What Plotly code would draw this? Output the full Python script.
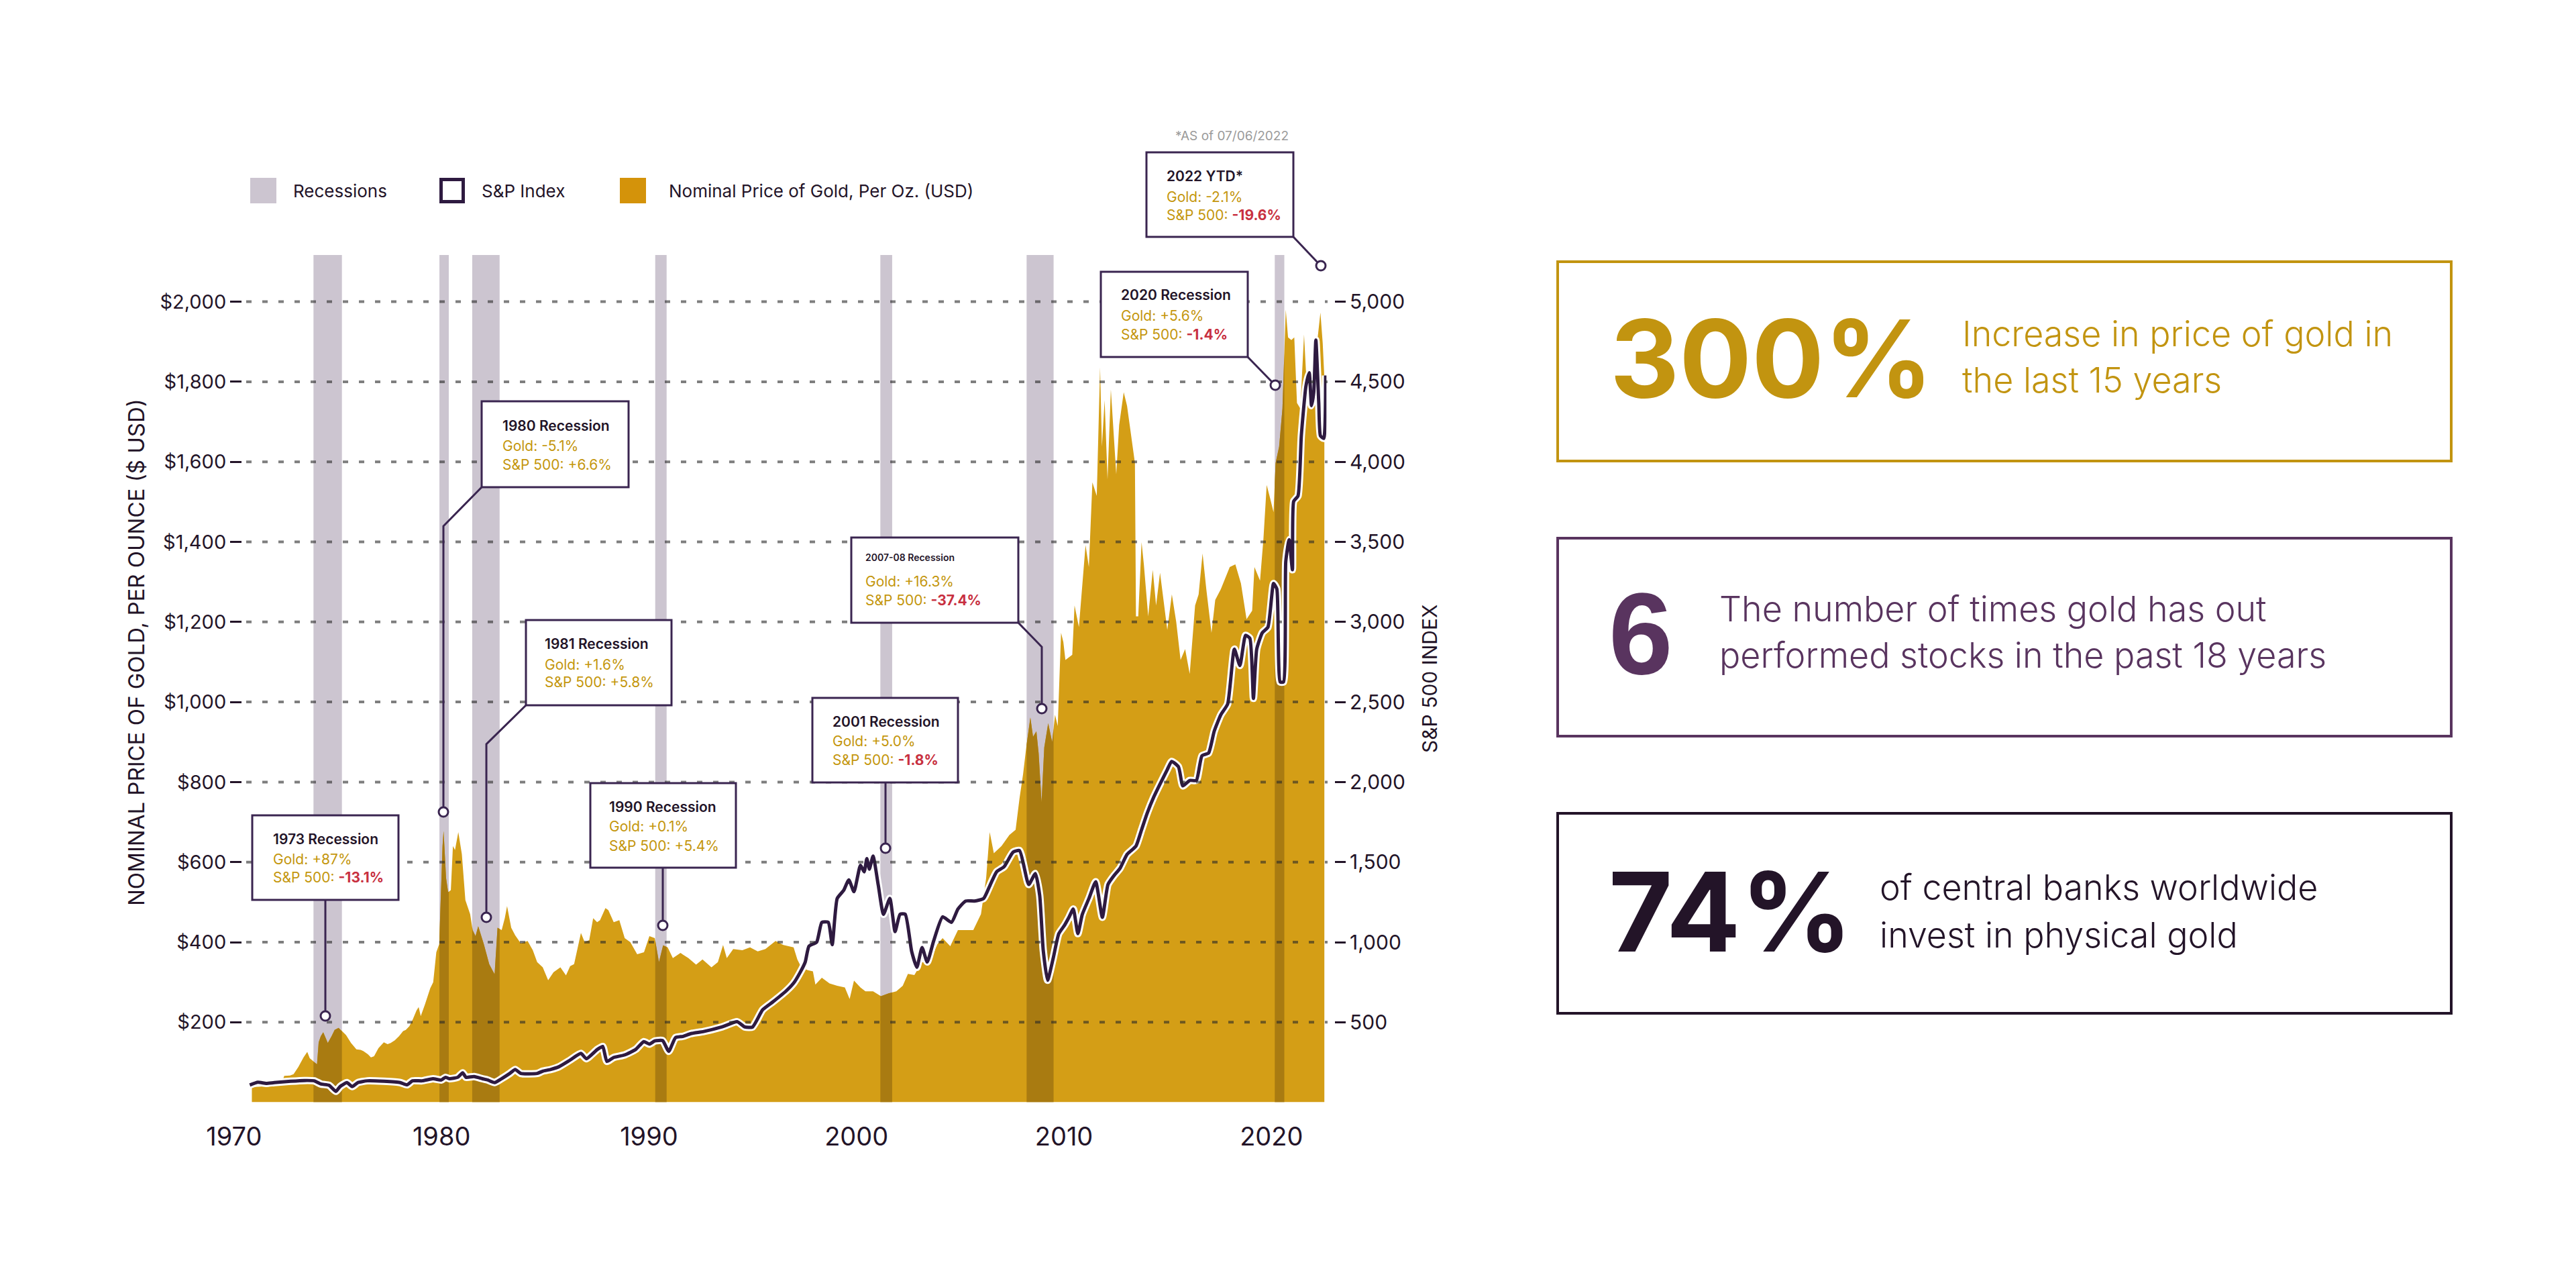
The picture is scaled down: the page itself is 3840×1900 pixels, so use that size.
import numpy as np
import plotly.graph_objects as go

W, H = 3840, 1900
OFF = 8  # page body margin

# ---------------- data ----------------
gold_year = [1970.86, 1971.30, 1971.80, 1972.30, 1972.42, 1972.70, 1972.87, 1973.10, 1973.35, 1973.53,
             1973.65, 1973.82, 1974.00, 1974.08, 1974.18, 1974.30, 1974.42, 1974.52, 1974.70, 1974.85,
             1975.04, 1975.24, 1975.40, 1975.64, 1975.90, 1976.10, 1976.23, 1976.45, 1976.60, 1976.75,
             1976.96, 1977.22, 1977.40, 1977.55, 1977.75, 1977.95, 1978.15, 1978.28, 1978.45, 1978.60,
             1978.80, 1978.90, 1979.00, 1979.20, 1979.46, 1979.60, 1979.75, 1979.89, 1980.05, 1980.10,
             1980.22, 1980.32, 1980.45, 1980.55, 1980.65, 1980.81, 1980.98, 1981.15, 1981.38, 1981.50,
             1981.64, 1981.77, 1982.04, 1982.30, 1982.45, 1982.56, 1982.70, 1982.90, 1983.05, 1983.16,
             1983.36, 1983.55, 1983.82, 1984.15, 1984.40, 1984.61, 1984.88, 1985.14, 1985.40, 1985.73,
             1986.00, 1986.20, 1986.39, 1986.72, 1986.90, 1987.12, 1987.31, 1987.50, 1987.64, 1987.90,
             1988.04, 1988.30, 1988.57, 1988.83, 1989.10, 1989.43, 1989.76, 1990.02, 1990.28, 1990.48,
             1990.68, 1990.90, 1991.15, 1991.52, 1991.90, 1992.27, 1992.58, 1993.01, 1993.32, 1993.57,
             1993.75, 1994.06, 1994.50, 1994.87, 1995.24, 1995.61, 1996.10, 1996.48, 1996.97, 1997.15,
             1997.34, 1997.65, 1997.90, 1998.02, 1998.33, 1998.70, 1999.07, 1999.44, 1999.67, 1999.88,
             2000.19, 2000.43, 2000.80, 2001.18, 2001.55, 2001.92, 2002.23, 2002.48, 2002.79, 2003.16,
             2003.53, 2003.90, 2004.15, 2004.52, 2004.89, 2005.26, 2005.63, 2006.00, 2006.25, 2006.42,
             2006.62, 2006.99, 2007.37, 2007.67, 2007.86, 2008.03, 2008.19, 2008.38, 2008.51, 2008.67,
             2008.78, 2008.92, 2009.05, 2009.24, 2009.43, 2009.57, 2009.70, 2009.86, 2009.97, 2010.07,
             2010.40, 2010.51, 2010.72, 2011.04, 2011.20, 2011.37, 2011.58, 2011.74, 2011.83, 2011.96,
             2012.10, 2012.26, 2012.39, 2012.52, 2012.66, 2012.88, 2013.04, 2013.25, 2013.42, 2013.47,
             2013.58, 2013.74, 2013.85, 2014.06, 2014.28, 2014.44, 2014.63, 2014.98, 2015.20, 2015.41,
             2015.62, 2015.84, 2016.06, 2016.32, 2016.49, 2016.68, 2016.86, 2017.11, 2017.29, 2017.56,
             2017.78, 2017.99, 2018.26, 2018.53, 2018.80, 2019.07, 2019.18, 2019.45, 2019.61, 2019.77,
             2019.94, 2020.10, 2020.20, 2020.37, 2020.53, 2020.69, 2020.80, 2020.96, 2021.10, 2021.23,
             2021.39, 2021.57, 2021.66, 2021.79, 2021.93, 2022.07, 2022.20, 2022.36, 2022.47, 2022.55]
gold_usd = [38, 39, 43, 48, 66, 67, 70, 88, 112, 126,
            110, 102, 95, 150, 165, 175, 160, 148, 165, 181,
            186, 175, 168, 148, 132, 131, 128, 120, 112, 115,
            135, 150, 145, 148, 155, 165, 178, 181, 190, 205,
            230, 238, 215, 244, 285, 300, 375, 395, 640, 678,
            560, 525, 530, 640, 630, 675, 620, 505, 470, 430,
            415, 440, 395, 345, 330, 320, 436, 430, 460, 490,
            436, 417, 397, 403, 380, 350, 337, 305, 325, 337,
            317, 340, 345, 423, 400, 405, 460, 450, 455, 485,
            480, 450, 455, 410, 400, 370, 375, 415, 410, 350,
            392, 387, 360, 373, 360, 344, 357, 337, 350, 393,
            360, 383, 380, 387, 377, 383, 403, 393, 387, 357,
            337, 330, 327, 294, 311, 297, 291, 287, 258, 304,
            287, 277, 277, 265, 272, 277, 291, 321, 318, 350,
            350, 395, 410, 390, 430, 430, 430, 470, 560, 675,
            622, 640, 668, 681, 760, 820, 890, 961, 913, 927,
            872, 749, 886, 947, 900, 968, 940, 1173, 1150, 1105,
            1118, 1241, 1187, 1392, 1337, 1549, 1515, 1836, 1638, 1754,
            1556, 1781, 1665, 1569, 1692, 1774, 1740, 1665, 1597, 1214,
            1214, 1399, 1344, 1214, 1330, 1241, 1323, 1180, 1269, 1200,
            1105, 1132, 1070, 1241, 1269, 1371, 1282, 1173, 1255, 1282,
            1310, 1337, 1344, 1296, 1207, 1228, 1337, 1303, 1405, 1542,
            1508, 1474, 1597, 1638, 1733, 1980, 1911, 1904, 1911, 1747,
            1733, 1918, 1829, 1733, 1774, 1815, 1897, 1973, 1897, 1810]

sp_year = [1970.76, 1971.15, 1971.55, 1971.94, 1972.73, 1973.39, 1973.86, 1974.19, 1974.58, 1974.91,
           1975.11, 1975.44, 1975.70, 1975.97, 1976.43, 1977.22, 1978.01, 1978.34, 1978.60, 1979.07,
           1979.59, 1979.99, 1980.19, 1980.39, 1980.78, 1981.02, 1981.18, 1981.57, 1981.97, 1982.23,
           1982.56, 1982.89, 1983.29, 1983.55, 1983.82, 1984.61, 1984.87, 1985.27, 1985.66, 1986.19,
           1986.72, 1986.98, 1987.51, 1987.77, 1987.97, 1988.30, 1988.83, 1989.36, 1989.75, 1990.02,
           1990.28, 1990.66, 1990.95, 1991.28, 1991.65, 1992.02, 1992.64, 1993.50, 1994.25, 1994.62,
           1994.99, 1995.48, 1995.98, 1996.60, 1996.97, 1997.28, 1997.53, 1997.71, 1998.08, 1998.33,
           1998.64, 1998.83, 1999.07, 1999.38, 1999.63, 1999.88, 2000.19, 2000.37, 2000.50, 2000.62,
           2000.80, 2001.05, 2001.30, 2001.61, 2001.86, 2002.10, 2002.35, 2002.66, 2002.91, 2003.16,
           2003.41, 2003.72, 2004.15, 2004.58, 2004.89, 2005.26, 2005.69, 2006.13, 2006.44, 2006.75,
           2007.12, 2007.55, 2007.86, 2008.30, 2008.62, 2008.83, 2009.00, 2009.21, 2009.48, 2009.75,
           2010.02, 2010.24, 2010.45, 2010.67, 2010.88, 2011.21, 2011.53, 2011.85, 2012.12, 2012.39,
           2012.71, 2013.04, 2013.47, 2013.74, 2014.01, 2014.33, 2014.65, 2014.98, 2015.19, 2015.52,
           2015.73, 2016.06, 2016.38, 2016.65, 2016.97, 2017.24, 2017.56, 2017.89, 2018.21, 2018.48,
           2018.75, 2018.96, 2019.13, 2019.29, 2019.56, 2019.83, 2020.10, 2020.26, 2020.42, 2020.58,
           2020.69, 2020.85, 2021.01, 2021.07, 2021.28, 2021.44, 2021.66, 2021.82, 2021.93, 2022.04,
           2022.14, 2022.28, 2022.36, 2022.52, 2022.61]
sp_index = [108, 125, 118, 123, 131, 136, 134, 114, 106, 68,
            98, 123, 98, 123, 134, 131, 123, 109, 134, 134,
            147, 139, 156, 147, 156, 184, 156, 161, 147, 139,
            123, 147, 180, 205, 180, 180, 194, 205, 222, 263,
            305, 272, 330, 349, 255, 280, 296, 330, 379, 363,
            383, 385, 318, 404, 412, 429, 442, 470, 503, 470,
            470, 578, 628, 694, 744, 810, 876, 975, 1000, 1124,
            1124, 984, 1273, 1323, 1389, 1315, 1480, 1439, 1522, 1456,
            1538, 1356, 1174, 1273, 1066, 1174, 1174, 942, 843, 967,
            876, 1008, 1158, 1124, 1207, 1257, 1257, 1273, 1356, 1439,
            1472, 1563, 1572, 1360, 1429, 1292, 950, 762, 899, 1053,
            1104, 1155, 1207, 1053, 1172, 1275, 1377, 1155, 1360, 1412,
            1463, 1548, 1600, 1702, 1805, 1907, 1993, 2078, 2129, 2095,
            1976, 2010, 2010, 2164, 2181, 2317, 2420, 2488, 2830, 2728,
            2916, 2898, 2522, 2830, 2933, 2967, 3240, 3206, 2625, 2625,
            3377, 3514, 3326, 3753, 3787, 4163, 4471, 4556, 4351, 4437,
            4761, 4368, 4163, 4146, 4539]

recession_start = [1973.83, 1979.90, 1981.48, 1990.30, 2001.15, 2008.20, 2020.16]
recession_end = [1975.20, 1980.35, 1982.80, 1990.85, 2001.72, 2009.50, 2020.62]

gold_ticks = [200, 400, 600, 800, 1000, 1200, 1400, 1600, 1800, 2000]
gold_tick_text = ["$200", "$400", "$600", "$800", "$1,000", "$1,200", "$1,400", "$1,600", "$1,800", "$2,000"]
sp_ticks = [500, 1000, 1500, 2000, 2500, 3000, 3500, 4000, 4500, 5000]
year_ticks = [1970, 1980, 1990, 2000, 2010, 2020]

callouts = [
    ("1973 Recession", "Gold: +87%", "-13.1%", True),
    ("1980 Recession", "Gold: -5.1%", "+6.6%", False),
    ("1981 Recession", "Gold: +1.6%", "+5.8%", False),
    ("1990 Recession", "Gold: +0.1%", "+5.4%", False),
    ("2001 Recession", "Gold: +5.0%", "-1.8%", True),
    ("2007-08 Recession", "Gold: +16.3%", "-37.4%", True),
    ("2020 Recession", "Gold: +5.6%", "-1.4%", True),
    ("2022 YTD*", "Gold: -2.1%", "-19.6%", True),
]

# ---------------- style ----------------
FONT = "Inter, Noto Sans, sans-serif"
DARK = "#231428"
PURPLE = "#3A2550"
GOLD = "#D49E16"
GOLD_DARK = "#A97B11"
BAND = "#CCC5D0"
GOLD_TXT = "#C4960C"
RED = "#C8303F"
CARD_GOLD = "#C29410"
CARD_PURPLE = "#59345F"


def px(x):
    return (x - OFF) / W


def py(y):
    return 1 - (y - OFF) / H


GOLD_TOP = 2116.7
X_RANGE = [1969.95, 2022.65]

fig = go.Figure()

fig.add_trace(go.Scatter(x=gold_year, y=gold_usd, mode="lines", fill="tozeroy",
                         fillcolor=GOLD, line=dict(width=0, color=GOLD), hoverinfo="skip"))

gy = np.array(gold_year)
gv = np.array(gold_usd)
for s, e in zip(recession_start, recession_end):
    inside = (gy > s) & (gy < e)
    xs = [s] + list(gy[inside]) + [e]
    ys = [float(np.interp(s, gy, gv))] + list(gv[inside]) + [float(np.interp(e, gy, gv))]
    fig.add_trace(go.Scatter(x=xs, y=ys, mode="lines", fill="tozeroy", fillcolor=GOLD_DARK,
                             line=dict(width=0, color=GOLD_DARK), hoverinfo="skip"))

fig.add_trace(go.Scatter(x=sp_year, y=sp_index, yaxis="y2", mode="lines",
                         line=dict(color="white", width=11, shape="spline", smoothing=0.5),
                         hoverinfo="skip"))
fig.add_trace(go.Scatter(x=sp_year, y=sp_index, yaxis="y2", mode="lines",
                         line=dict(color="#2E1A40", width=5, shape="spline", smoothing=0.5),
                         hoverinfo="skip"))

shapes = []
for s, e in zip(recession_start, recession_end):
    shapes.append(dict(type="rect", xref="x", yref="y", x0=s, x1=e, y0=0, y1=GOLD_TOP,
                       fillcolor=BAND, line=dict(width=0), layer="below"))
for v in gold_ticks:
    shapes.append(dict(type="line", xref="paper", yref="y", x0=px(367), x1=px(1979), y0=v, y1=v,
                       line=dict(color="rgba(40,40,40,0.6)", width=4, dash="8px,16px"), layer="above"))

boxes = [
    (376, 1215, 594, 1341), (718, 598, 937, 726), (784, 924, 1001, 1051), (880, 1167, 1097, 1293),
    (1211, 1040, 1428, 1166), (1269, 801, 1518, 928), (1641, 405, 1860, 532), (1709, 227, 1928, 353),
]
connectors = [
    [(485, 1341), (485, 1507)],
    [(718, 726), (661, 784), (661, 1203)],
    [(784, 1051), (725, 1109), (725, 1360)],
    [(988, 1293), (988, 1372)],
    [(1320, 1166), (1320, 1257)],
    [(1518, 928), (1553, 964), (1553, 1049)],
    [(1860, 532), (1896, 569)],
    [(1928, 353), (1964, 391)],
]
circles = [(485, 1514), (661, 1210), (725, 1367), (988, 1379), (1320, 1264), (1553, 1056), (1901, 574), (1969, 396)]

for pts in connectors:
    path = "M " + " L ".join(f"{px(x):.5f},{py(y):.5f}" for x, y in pts)
    shapes.append(dict(type="path", xref="paper", yref="paper", path=path,
                       line=dict(color=PURPLE, width=3), layer="above"))
for cx, cy in circles:
    r = 7
    shapes.append(dict(type="circle", xref="paper", yref="paper", x0=px(cx - r), x1=px(cx + r),
                       y0=py(cy + r), y1=py(cy - r), fillcolor="white",
                       line=dict(color=PURPLE, width=3), layer="above"))
for x0, y0, x1, y1 in boxes:
    shapes.append(dict(type="rect", xref="paper", yref="paper", x0=px(x0), x1=px(x1), y0=py(y1), y1=py(y0),
                       fillcolor="white", line=dict(color=PURPLE, width=3), layer="above"))

# legend swatches
shapes.append(dict(type="rect", xref="paper", yref="paper", x0=px(373), x1=px(412), y0=py(303), y1=py(265),
                   fillcolor=BAND, line=dict(width=0)))
shapes.append(dict(type="rect", xref="paper", yref="paper", x0=px(657.5), x1=px(690.5), y0=py(300.5), y1=py(267.5),
                   fillcolor="white", line=dict(color="#2E1A40", width=5)))
shapes.append(dict(type="rect", xref="paper", yref="paper", x0=px(924), x1=px(963), y0=py(303), y1=py(265),
                   fillcolor="#D4930A", line=dict(width=0)))

cards = [((2322, 390, 3654, 687), CARD_GOLD), ((2322, 802, 3654, 1097), CARD_PURPLE),
         ((2322, 1212, 3654, 1510), DARK)]
for (x0, y0, x1, y1), c in cards:
    shapes.append(dict(type="rect", xref="paper", yref="paper", x0=px(x0), x1=px(x1), y0=py(y1), y1=py(y0),
                       fillcolor="rgba(0,0,0,0)", line=dict(color=c, width=4)))

ann = []


def text(x, y, s, size, color, weight=400, family=FONT, anchor="left", angle=0):
    ann.append(dict(x=px(x), y=py(y), xref="paper", yref="paper", text=s, showarrow=False,
                    xanchor=anchor, yanchor="middle", textangle=angle,
                    font=dict(family=family, size=size, color=color, weight=weight)))


text_pos = [(405, 1250, 1280, 1307), (747, 634, 664, 692), (810, 959, 990, 1017), (906, 1202, 1231, 1260),
            (1239, 1075, 1104, 1132), (1288, 830, 866, 894), (1669, 440, 471, 498), (1737, 262, 293, 320)]
for (title, gtxt, sptxt, neg), (tx, ty1, ty2, ty3) in zip(callouts, text_pos):
    tsize = 14 if title.startswith("2007") else 21
    text(tx, ty1, title, tsize, DARK, weight=600)
    text(tx, ty2, gtxt, 21, GOLD_TXT)
    if neg:
        sp = f'S&amp;P 500: <span style="color:{RED}"><b>{sptxt}</b></span>'
    else:
        sp = f"S&amp;P 500: {sptxt}"
    text(tx, ty3, sp, 21, GOLD_TXT)

text(1750, 203, "*AS of 07/06/2022", 19, "#9A9A9A")

text(435, 284, "Recessions", 26, DARK)
text(716, 284, "S&amp;P Index", 26, DARK)
text(995, 284, "Nominal Price of Gold, Per Oz. (USD)", 26, DARK)

text(203, 972, "NOMINAL PRICE OF GOLD, PER OUNCE ($ USD)", 33, DARK, anchor="center", angle=-90)
text(2131, 1011, "S&amp;P 500 INDEX", 30, DARK, anchor="center", angle=-90)

text(2398, 534, "300%", 160, CARD_GOLD, weight=700)
text(2923, 497, "Increase in price of gold in", 52, CARD_GOLD, weight=300)
text(2923, 566, "the last 15 years", 52, CARD_GOLD, weight=300)

text(2396, 944, "6", 172, CARD_PURPLE, weight=700, family="Liberation Sans, Arial, sans-serif")
text(2561, 907, "The number of times gold has out", 52, CARD_PURPLE, weight=300)
text(2561, 976, "performed stocks in the past 18 years", 52, CARD_PURPLE, weight=300)

text(2396, 1358, "74%", 164, DARK, weight=700)
text(2800, 1322, "of central banks worldwide", 52, DARK, weight=300)
text(2800, 1393, "invest in physical gold", 52, DARK, weight=300)

x_dom = [px(347.3), px(1977.3)]
y_dom = [py(1642.6), py(380)]

fig.update_layout(
    width=W, height=H, margin=dict(l=0, r=0, t=0, b=0, pad=0, autoexpand=False),
    paper_bgcolor="white", plot_bgcolor="rgba(0,0,0,0)",
    showlegend=False, hovermode=False,
    font=dict(family=FONT, color=DARK),
    shapes=shapes, annotations=ann,
    xaxis=dict(domain=x_dom, range=X_RANGE, tickvals=year_ticks, showgrid=False, zeroline=False,
               showline=False, ticks="outside", ticklen=18, tickcolor="rgba(0,0,0,0)", automargin=False,
               tickfont=dict(size=38, color=DARK, family=FONT), anchor="y"),
    yaxis=dict(domain=y_dom, range=[0, GOLD_TOP], tickvals=gold_ticks, ticktext=gold_tick_text,
               showgrid=False, zeroline=False, showline=False, ticks="outside", ticklen=17, tickwidth=3,
               tickcolor=DARK, tickfont=dict(size=29, color=DARK, family=FONT), automargin=False,
               anchor="free", position=px(360)),
    yaxis2=dict(range=[0, GOLD_TOP * 2.5], overlaying="y", side="right", tickvals=sp_ticks, tickformat=",",
                showgrid=False, zeroline=False, showline=False, ticks="outside", ticklen=16, tickwidth=3,
                tickcolor=DARK, tickfont=dict(size=30, color=DARK, family=FONT), automargin=False,
                anchor="free", position=px(1989)),
)

fig.write_html("out.html")
